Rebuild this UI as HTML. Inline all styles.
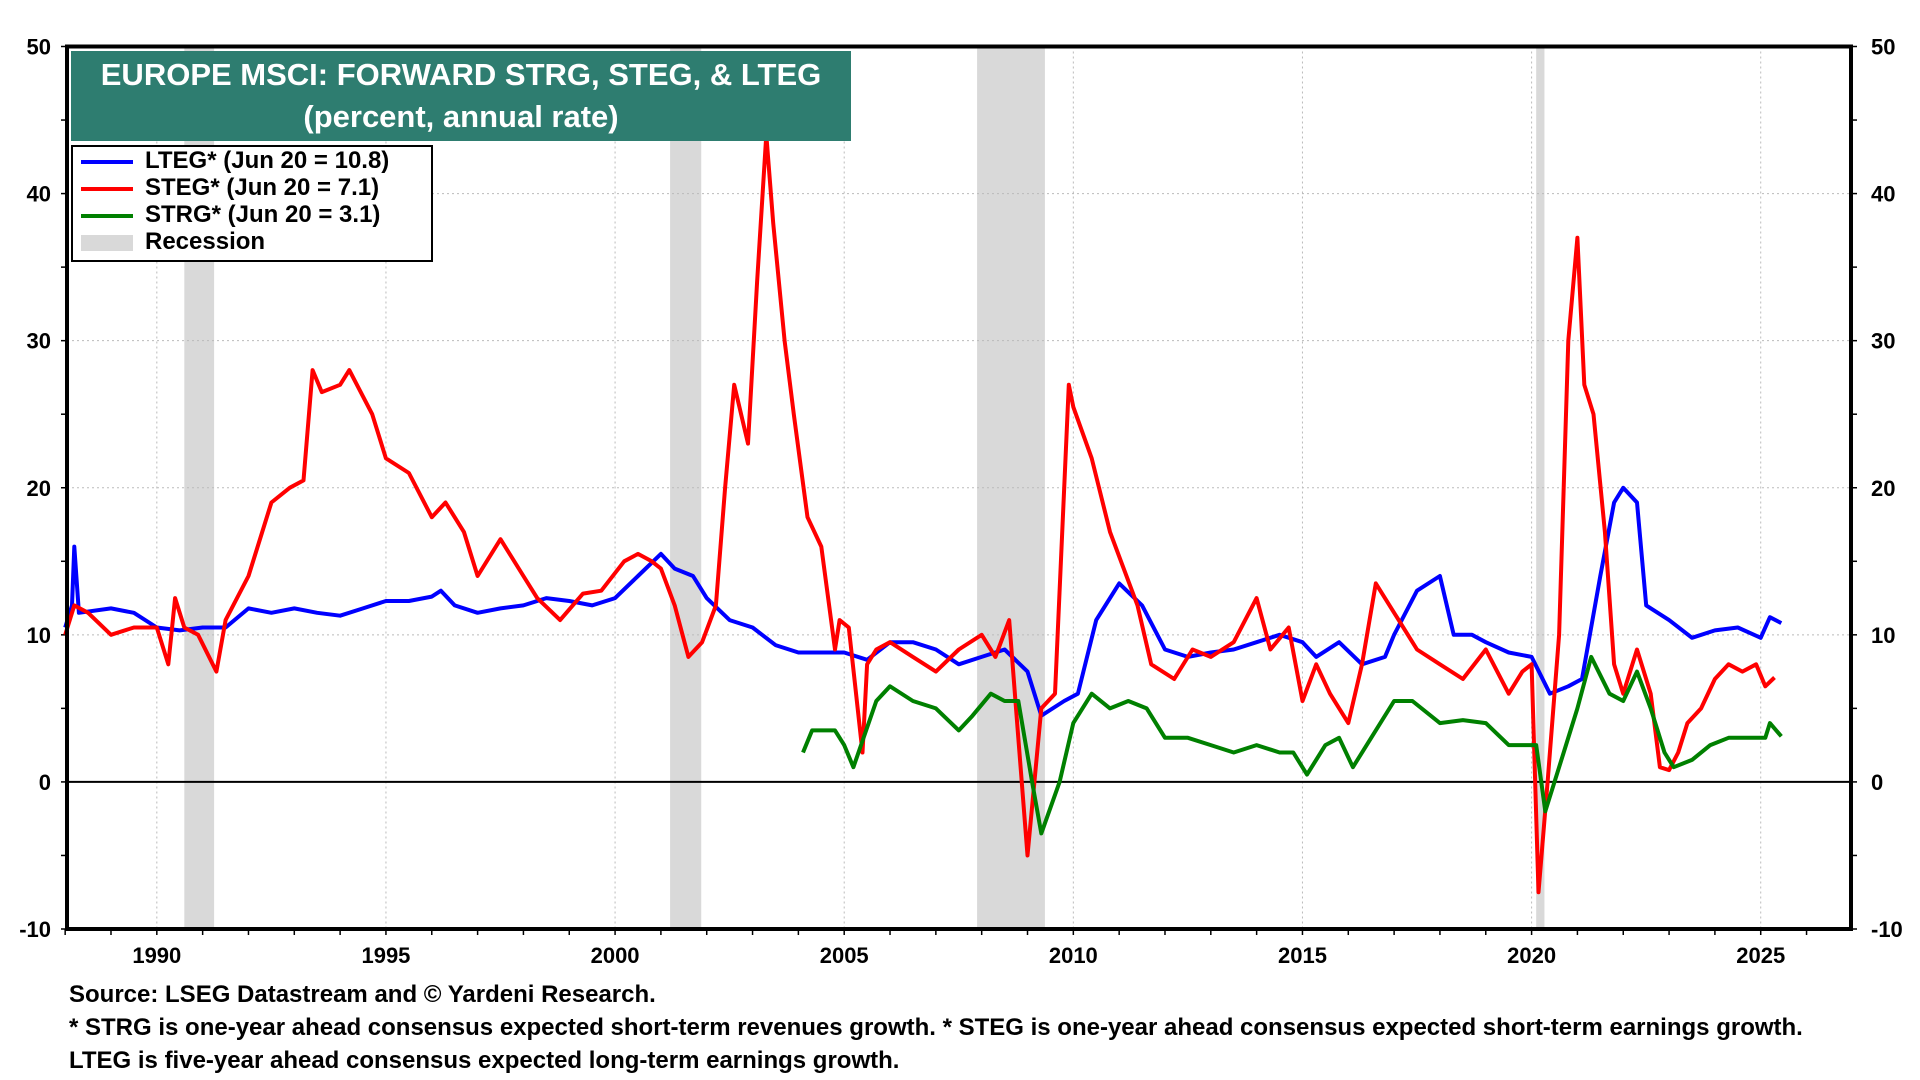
<!DOCTYPE html>
<html><head><meta charset="utf-8"><style>
html,body{margin:0;padding:0;background:#fff;}
svg{display:block;font-family:"Liberation Sans",Arial,sans-serif;font-weight:bold;}
</style></head><body>
<svg id="c" width="1920" height="1080" viewBox="0 0 1920 1080"></svg>
<script>
const xTicks=[1990,1995,2000,2005,2010,2015,2020,2025];
const yTicks=[-10,0,10,20,30,40,50];
const recessions=[[1990.6,1991.25],[2001.2,2001.88],[2007.9,2009.38],[2020.1,2020.28]];
const ltegX=[1988.0,1988.15,1988.2,1988.3,1989,1989.5,1990,1990.5,1991,1991.5,1992,1992.5,1993,1993.5,1994,1994.5,1995,1995.5,1996,1996.2,1996.5,1997,1997.5,1998,1998.5,1999,1999.5,2000,2000.5,2001,2001.3,2001.7,2002,2002.5,2003,2003.5,2004,2004.5,2005,2005.5,2006,2006.5,2007,2007.5,2008,2008.5,2009,2009.3,2009.8,2010.1,2010.5,2011,2011.5,2012,2012.5,2013,2013.5,2014,2014.5,2015,2015.3,2015.8,2016.3,2016.8,2017,2017.5,2018,2018.3,2018.7,2019,2019.5,2020,2020.4,2020.8,2021.1,2021.5,2021.8,2022,2022.3,2022.5,2023,2023.5,2024,2024.5,2025,2025.2,2025.45];
const ltegY=[10.5,12,16,11.5,11.8,11.5,10.5,10.3,10.5,10.5,11.8,11.5,11.8,11.5,11.3,11.8,12.3,12.3,12.6,13,12,11.5,11.8,12,12.5,12.3,12,12.5,14,15.5,14.5,14,12.5,11,10.5,9.3,8.8,8.8,8.8,8.3,9.5,9.5,9,8,8.5,9,7.5,4.5,5.5,6,11,13.5,12,9,8.5,8.8,9,9.5,10,9.5,8.5,9.5,8,8.5,10,13,14,10,10,9.5,8.8,8.5,6,6.5,7,14,19,20,19,12,11,9.8,10.3,10.5,9.8,11.2,10.8];
const stegX=[1988.0,1988.2,1988.5,1989,1989.5,1990,1990.25,1990.4,1990.6,1990.9,1991.3,1991.5,1992,1992.5,1992.9,1993.2,1993.4,1993.6,1994,1994.2,1994.7,1995,1995.5,1996,1996.3,1996.7,1997,1997.5,1998,1998.3,1998.8,1999.3,1999.7,2000.2,2000.5,2000.8,2001,2001.3,2001.6,2001.9,2002.2,2002.4,2002.6,2002.9,2003.1,2003.3,2003.45,2003.7,2003.9,2004.2,2004.5,2004.8,2004.9,2005.1,2005.4,2005.5,2005.7,2006,2006.5,2007,2007.5,2008,2008.3,2008.6,2008.8,2009.0,2009.3,2009.6,2009.9,2010.0,2010.4,2010.8,2011.1,2011.4,2011.7,2012.2,2012.6,2013,2013.5,2014,2014.3,2014.7,2015,2015.3,2015.6,2016,2016.3,2016.6,2017.1,2017.5,2018,2018.5,2019,2019.5,2019.8,2020.0,2020.15,2020.35,2020.6,2020.8,2021.0,2021.15,2021.35,2021.6,2021.8,2022,2022.3,2022.6,2022.8,2023,2023.2,2023.4,2023.7,2024,2024.3,2024.6,2024.9,2025.1,2025.3,2025.45];
const stegY=[10,12,11.5,10,10.5,10.5,8,12.5,10.5,10,7.5,11,14,19,20,20.5,28,26.5,27,28,25,22,21,18,19,17,14,16.5,14,12.5,11,12.8,13,15,15.5,15,14.5,12,8.5,9.5,12,20,27,23,34,44,38,30,25,18,16,9,11,10.5,2,8,9,9.5,8.5,7.5,9,10,8.5,11,3,-5,5,6,27,25.5,22,17,14.5,12,8,7,9,8.5,9.5,12.5,9,10.5,5.5,8,6,4,8,13.5,11,9,8,7,9,6,7.5,8,-7.5,0,10,30,37,27,25,17,8,6,9,6,1,0.8,2,4,5,7,8,7.5,8,6.5,7.1];
const strgX=[2004.1,2004.3,2004.8,2005.0,2005.2,2005.7,2006,2006.5,2007,2007.5,2007.8,2008.2,2008.5,2008.8,2009.1,2009.3,2009.7,2010,2010.4,2010.8,2011.2,2011.6,2012,2012.5,2013,2013.5,2014,2014.5,2014.8,2015.1,2015.5,2015.8,2016.1,2016.5,2017,2017.4,2018,2018.5,2019,2019.5,2020.1,2020.3,2020.7,2021,2021.3,2021.7,2022,2022.3,2022.6,2022.9,2023.1,2023.5,2023.9,2024.3,2024.8,2025.1,2025.2,2025.45];
const strgY=[2,3.5,3.5,2.5,1,5.5,6.5,5.5,5,3.5,4.5,6,5.5,5.5,0,-3.5,0,4,6,5,5.5,5,3,3,2.5,2,2.5,2,2,0.5,2.5,3,1,3,5.5,5.5,4,4.2,4,2.5,2.5,-2,2,5,8.5,6,5.5,7.5,5,2,1,1.5,2.5,3,3,3,4,3.1];

const L=67,R=1851,T=46.5,B=929,X0=1988.04,X1=2026.97,Y0=-10,Y1=50;
const sx=v=>L+(v-X0)/(X1-X0)*(R-L);
const sy=v=>B-(v-Y0)/(Y1-Y0)*(B-T);
const svg=document.getElementById('c');
const NS='http://www.w3.org/2000/svg';
function mk(t,a,txt){const e=document.createElementNS(NS,t);for(const k in a)e.setAttribute(k,a[k]);if(txt!==undefined)e.textContent=txt;svg.appendChild(e);return e;}

recessions.forEach(r=>{
 const e=mk('rect',{x:sx(r[0]),y:T,width:sx(r[1])-sx(r[0]),height:B-T,fill:'#d9d9d9'});
 
 
});
xTicks.forEach(v=>{
 const g=mk('line',{x1:sx(v),x2:sx(v),y1:T,y2:B,stroke:'#bbb','stroke-dasharray':'2,3','stroke-width':1});
 
 
 const t=mk('text',{x:sx(v),y:B+34,'text-anchor':'middle','font-size':22},String(v));
 
 
});
for(let y=1988;y<=2026;y++){mk('line',{x1:sx(y),x2:sx(y),y1:B,y2:B+6,stroke:'#000','stroke-width':1.5});}
for(let v=-10;v<=50;v+=5){mk('line',{x1:L-6,x2:L,y1:sy(v),y2:sy(v),stroke:'#000','stroke-width':1.5});mk('line',{x1:R,x2:R+6,y1:sy(v),y2:sy(v),stroke:'#000','stroke-width':1.5});}
yTicks.forEach(v=>{
 if(v!==0&&v!==-10&&v!==50){const g=mk('line',{x1:L,x2:R,y1:sy(v),y2:sy(v),stroke:'#bbb','stroke-dasharray':'2,3','stroke-width':1});
 
 }
 const a=mk('text',{x:L-16,y:sy(v)+8,'text-anchor':'end','font-size':22},String(v));
 
 
 const b=mk('text',{x:R+20,y:sy(v)+8,'text-anchor':'start','font-size':22},String(v));
 
 
});
const z=mk('line',{x1:L,x2:R,y1:sy(0),y2:sy(0),stroke:'#000','stroke-width':2});


function series(xs,ys,color,name){
 const d=xs.map((x,i)=>(i?'L':'M')+sx(x).toFixed(1)+','+sy(ys[i]).toFixed(1)).join('');
 const p=mk('path',{d:d,fill:'none',stroke:color,'stroke-width':4,'stroke-linejoin':'round'});
 
 
}
series(ltegX,ltegY,'#0000ff','lteg-line');
series(stegX,stegY,'#ff0000','steg-line');
series(strgX,strgY,'#008000','strg-line');
const fr=mk('rect',{x:L,y:T,width:R-L,height:B-T,fill:'none',stroke:'#000','stroke-width':4});


</script>
<div style="position:absolute;left:71px;top:51px;width:780px;height:90px;background:#2e7d70;color:#fff;font:bold 31px 'Liberation Sans',sans-serif;text-align:center;line-height:42px;padding-top:3px;box-sizing:border-box;">EUROPE MSCI: FORWARD STRG, STEG, &amp; LTEG<br>(percent, annual rate)</div>
<div style="position:absolute;left:71px;top:145px;width:362px;height:117px;border:2px solid #000;box-sizing:border-box;background:#fff;font:bold 24px 'Liberation Sans',sans-serif;">
 <div style="position:absolute;left:8px;top:0px;"><span style="display:inline-block;width:52px;height:4px;background:#00f;vertical-align:middle;margin-right:12px"></span>LTEG* (Jun 20 = 10.8)</div>
 <div style="position:absolute;left:8px;top:27px;"><span style="display:inline-block;width:52px;height:4px;background:#f00;vertical-align:middle;margin-right:12px"></span>STEG* (Jun 20 = 7.1)</div>
 <div style="position:absolute;left:8px;top:54px;"><span style="display:inline-block;width:52px;height:4px;background:#008000;vertical-align:middle;margin-right:12px"></span>STRG* (Jun 20 = 3.1)</div>
 <div style="position:absolute;left:8px;top:81px;"><span style="display:inline-block;width:52px;height:16px;background:#d9d9d9;vertical-align:middle;margin-right:12px"></span>Recession</div>
</div>
<div style="position:absolute;left:69px;top:978px;font:bold 24px 'Liberation Sans',sans-serif;line-height:33px;">
 <div>Source: LSEG Datastream and © Yardeni Research.</div>
 <div>* STRG is one-year ahead consensus expected short-term revenues growth. * STEG is one-year ahead consensus expected short-term earnings growth.</div>
 <div>LTEG is five-year ahead consensus expected long-term earnings growth.</div>
</div>
</body></html>
